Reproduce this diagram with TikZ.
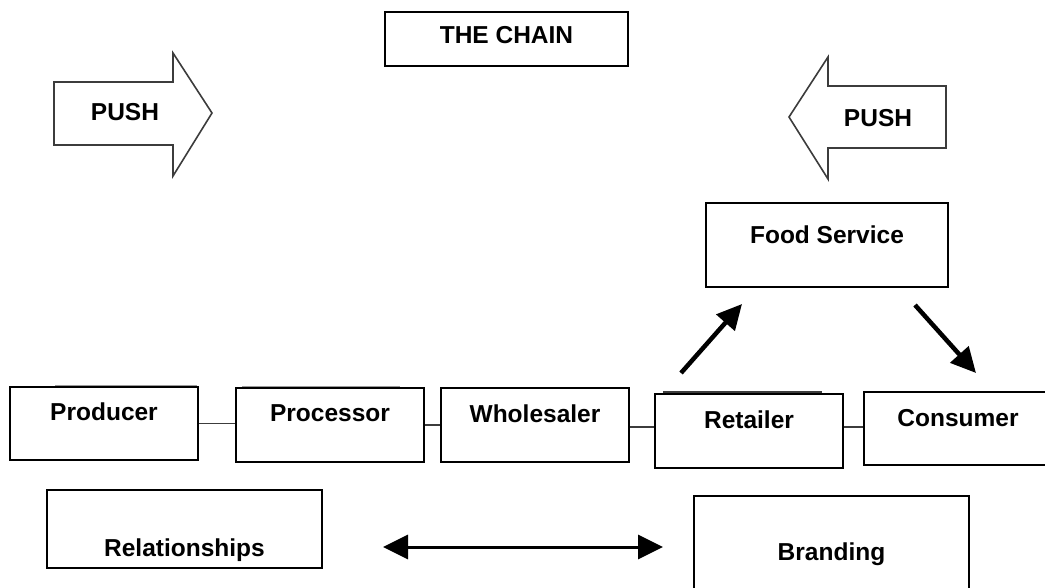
\documentclass[tikz,border=0pt]{standalone}
\usepackage{fontspec}
\setmainfont{Liberation Sans}
\usepackage{xcolor}
\usepackage{tikz}
\usetikzlibrary{arrows.meta,positioning}
\definecolor{linegray}{HTML}{3C3C3C}
\definecolor{ghostgray}{HTML}{9A9A9A}

\begin{document}
\begin{tikzpicture}[x=1pt,y=-1pt,
    box/.style={draw=black,line width=1.5pt,minimum width=188pt,minimum height=74pt,inner sep=0pt},
    lbl/.style={font=\bfseries\fontsize{24.5}{28}\selectfont,inner sep=0pt},
    pusharrow/.style={draw=linegray,line width=1.6pt,line join=miter},
    link/.style={draw=linegray,line width=1.8pt},
    flow/.style={line width=4.5pt,-{Triangle[length=25pt,width=24pt]}},
    both/.style={line width=3pt,{Triangle[length=25pt,width=24pt]}-{Triangle[length=25pt,width=24pt]}}]
  \path[use as bounding box,clip] (0,0) rectangle (1045,587);

  \node[box,minimum width=243pt,minimum height=54pt] (chain) at (506.5,39) {};
  \node[lbl,below=15pt of chain.north] (chaintxt) {THE CHAIN};

  \draw[pusharrow] (54,82) -- (173,82) -- (173,53) -- (212,113) -- (173,176) -- (173,145) -- (54,145) -- cycle;
  \node[lbl] (pushl) at (125,112.5) {PUSH};
  \draw[pusharrow] (946,86) -- (828,86) -- (828,57) -- (789,117) -- (828,179) -- (828,148) -- (946,148) -- cycle;
  \node[lbl] (pushr) at (878,118) {PUSH};

  \node[box,minimum width=242pt,minimum height=84pt] (food) at (827,245) {};
  \node[lbl,below=23pt of food.north] (foodtxt) {Food Service};

  \node[box,minimum height=73pt] (prod) at (104,423.5) {};
  \node[lbl,below=16pt of prod.north] (prodtxt) {Producer};
  \node[box] (proc) at (330,425) {};
  \node[lbl,below=17pt of proc.north] (proctxt) {Processor};
  \node[box] (whole) at (535,425) {};
  \node[lbl,below=17pt of whole.north] (wholetxt) {Wholesaler};
  \node[box] (retail) at (749,431) {};
  \node[lbl,below=17pt of retail.north] (retailtxt) {Retailer};
  \node[box,minimum height=73pt] (cons) at (958,428.5) {};
  \node[lbl,below=18pt of cons.north] (constxt) {Consumer};

  \draw[ghostgray,line width=0.8pt] (55,385) -- (197,385);
  \draw[ghostgray,line width=0.8pt] (242,386) -- (400,386);
  \draw[linegray,line width=1.2pt] (663,392) -- (822,392);

  \draw[link] (prod.east) -- (prod.east -| proc.west);
  \draw[link] (proc.east) -- (proc.east -| whole.west);
  \draw[link] ([yshift=-2pt]whole.east) -- ([yshift=-2pt]whole.east -| retail.west);
  \draw[link] ([yshift=4pt]retail.east) -- ([yshift=4pt]retail.east -| cons.west);

  \coordinate (upfrom) at (681,373);
  \coordinate (upto) at (742,304);
  \coordinate (downfrom) at (915,305);
  \coordinate (downto) at (976,373);
  \draw[flow] (upfrom) -- (upto);
  \draw[flow] (downfrom) -- (downto);

  \node[box,minimum width=275pt,minimum height=78pt] (rel) at (184.5,529) {};
  \node[lbl,below=49pt of rel.north] (reltxt) {Relationships};
  \node[box,minimum width=275pt,minimum height=104pt] (brand) at (831.5,548) {};
  \node[lbl,below=47pt of brand.north] (brandtxt) {Branding};

  \coordinate (relend) at (383,547);
  \coordinate (brandend) at (663,547);
  \draw[both] (relend) -- (brandend);
\end{tikzpicture}
\end{document}
